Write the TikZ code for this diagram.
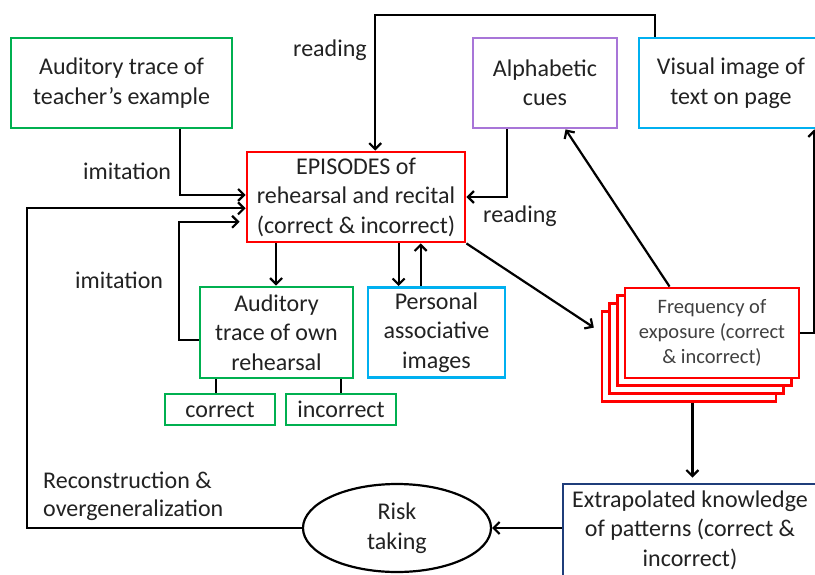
\documentclass[tikz,border=0pt]{standalone}
\usepackage{fontspec}
\setmainfont{Carlito}
\usetikzlibrary{arrows.meta,calc,shapes.geometric}
\definecolor{boxgreen}{HTML}{00B050}
\definecolor{boxred}{HTML}{FF0000}
\definecolor{boxpurple}{HTML}{A875D8}
\definecolor{boxcyan}{HTML}{00B0F0}
\definecolor{boxnavy}{HTML}{1F3D7A}
\definecolor{ink}{HTML}{222222}
\definecolor{softink}{HTML}{404040}
\tikzset{
  box/.style={draw, line width=2.8pt, fill=white, inner sep=0pt, align=center,
    text=ink, font=\fontsize{24}{29.5}\selectfont},
  smallbox/.style={box, font=\fontsize{20.5}{25}\selectfont, text=softink},
  lbl/.style={anchor=west, inner sep=0pt, text=ink, align=left,
    font=\fontsize{24}{28}\selectfont},
  conn/.style={draw=black, line width=2.2pt},
  arr/.style={conn, -{Straight Barb[length=6pt,width=12pt]}},
}
\begin{document}
\begin{tikzpicture}[x=1pt, y=-1pt]
\useasboundingbox (0,0) rectangle (815,574);
\clip (0,0) rectangle (815,574);

% ---- boxes ----
\node[box, draw=boxgreen, minimum width=221pt, minimum height=90pt] (teach) at (121.5,83)
  {Auditory trace of\\teacher’s example};
\node[box, draw=boxred, minimum width=218pt, minimum height=90pt] (epis) at (356,197)
  {EPISODES of\\rehearsal and recital\\(correct \& incorrect)};
\node[box, draw=boxpurple, minimum width=144pt, minimum height=90pt] (alpha) at (545,83)
  {Alphabetic\\cues};
\node[box, draw=boxcyan, minimum width=184pt, minimum height=90pt] (visual) at (731,83)
  {Visual image of\\text on page};
\node[box, draw=boxgreen, minimum width=153pt, minimum height=91pt] (own) at (276.5,332.5)
  {Auditory\\trace of own\\rehearsal};
\node[box, draw=boxcyan, minimum width=137pt, minimum height=90pt] (pers) at (436.5,332.5)
  {Personal\\associative\\images};
\node[box, draw=boxgreen, minimum width=110pt, minimum height=31pt] (correct) at (220,409.5)
  {correct};
\node[box, draw=boxgreen, minimum width=110pt, minimum height=31pt] (incorrect) at (341,409.5)
  {incorrect};

% stacked frequency cards, back to front
\node[smallbox, draw=boxred, minimum width=174pt, minimum height=90pt] (freq3) at (688.9,356.1) {};
\node[smallbox, draw=boxred, minimum width=174pt, minimum height=90pt] (freq2) at (696.6,348.4) {};
\node[smallbox, draw=boxred, minimum width=174pt, minimum height=90pt] (freq1) at (704.3,340.7) {};
\node[smallbox, draw=boxred, minimum width=174pt, minimum height=90pt] (freq) at (712,333)
  {Frequency of\\exposure (correct\\\& incorrect)};

\node[box, draw=boxnavy, minimum width=254pt, minimum height=92pt] (extra) at (690,530)
  {Extrapolated knowledge\\of patterns (correct \&\\incorrect)};
\node[box, ellipse, draw=black, line width=2.2pt, minimum width=188pt, minimum height=88pt] (risk) at (397,528)
  {Risk\\taking};

% ---- labels ----
\node[lbl] (lreadtop) at (293,50) {reading};
\node[lbl] (limit1) at (83,171) {imitation};
\node[lbl] (limit2) at (75,280) {imitation};
\node[lbl] (lreadright) at (483,216) {reading};
\node[lbl] (lrecon) at (43,496) {Reconstruction \&\\overgeneralization};

% ---- anchor points on box edges ----
\coordinate (toprow) at (0,15);
\coordinate (loopx) at (27,0);
\coordinate (imx) at (179,0);
\coordinate (vtop) at ($(visual.north west)!0.092!(visual.north east)$);
\coordinate (etop) at ($(epis.north west)!0.587!(epis.north east)$);
\coordinate (tout) at ($(teach.south west)!0.76!(teach.south east)$);
\coordinate (ein1) at ($(epis.north west)!0.478!(epis.south west)$);
\coordinate (ein2) at ($(epis.north west)!0.622!(epis.south west)$);
\coordinate (ein3) at ($(epis.north west)!0.767!(epis.south west)$);
\coordinate (aout) at ($(alpha.south west)!0.243!(alpha.south east)$);
\coordinate (eout1) at ($(epis.south west)!0.138!(epis.south east)$);
\coordinate (eout2) at ($(epis.south west)!0.693!(epis.south east)$);
\coordinate (pout) at ($(pers.south west)!0.387!(pers.south east)$);
\coordinate (ownout) at ($(own.north west)!0.58!(own.south west)$);
\coordinate (ownc) at ($(own.south west)!0.111!(own.south east)$);
\coordinate (fin) at ($(freq3.north west)!0.24!(freq3.south west)$);
\coordinate (fup) at ($(freq.north west)!0.26!(freq.north east)$);
\coordinate (ain) at ($(alpha.south west)!0.64!(alpha.south east)$);
\coordinate (vin) at ($(visual.south west)!0.946!(visual.south east)$);
\coordinate (fdown) at ($(freq3.south west)!0.52!(freq3.south east)$);

% ---- connectors ----
\draw[arr] (vtop) |- (toprow -| etop) -- (etop);
\draw[arr] (tout) |- (ein1);
\draw[arr] (risk.west) -- (risk.west -| loopx) |- (ein2);
\draw[arr, shorten >=6pt] (ownout) -- (ownout -| imx) |- (ein3);
\draw[arr] (aout) |- (epis.east);
\draw[arr] (eout1) -- (eout1 |- own.north);
\draw[arr] (eout2) -- (eout2 |- pers.north);
\draw[arr] (pout |- pers.north) -- (pout |- epis.south);
\draw[conn] (ownc) -- (ownc |- correct.north);
\draw[conn] (incorrect.north |- own.south) -- (incorrect.north);
\draw[arr, shorten >=8pt] (epis.south east) -- (fin);
\draw[arr] (fup) -- (ain);
\draw[arr] (freq.east) -- (freq.east -| vin) -- (vin);
\draw[arr, shorten >=5pt] (fdown) -- (fdown |- extra.north);
\draw[arr] (extra.west |- risk.east) -- (risk.east);
\end{tikzpicture}
\end{document}
